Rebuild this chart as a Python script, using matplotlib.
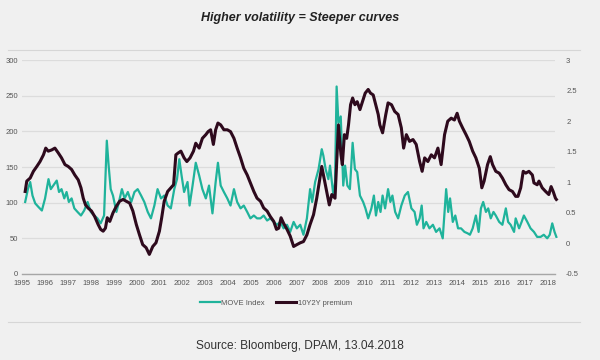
import matplotlib
matplotlib.use("Agg")
import matplotlib.pyplot as plt

plt.rcParams["font.family"] = ["Liberation Sans", "DejaVu Sans"]

# MOVE Index (left axis)
move_years = [1995.13, 1995.25, 1995.35, 1995.45, 1995.57, 1995.71, 1995.86, 1996.00, 1996.15, 1996.25,
              1996.36, 1996.51, 1996.61, 1996.72, 1996.84, 1996.94, 1997.04, 1997.16, 1997.28, 1997.42,
              1997.57, 1997.71, 1997.86, 1998.00, 1998.15, 1998.29, 1998.43, 1998.58, 1998.70, 1998.78,
              1998.87, 1998.97, 1999.12, 1999.23, 1999.36, 1999.48, 1999.62, 1999.77, 1999.91, 2000.05,
              2000.20, 2000.34, 2000.49, 2000.63, 2000.78, 2000.92, 2001.07, 2001.21, 2001.36, 2001.50,
              2001.65, 2001.77, 2001.87, 2001.97, 2002.08, 2002.23, 2002.32, 2002.45, 2002.59, 2002.74,
              2002.88, 2003.03, 2003.17, 2003.32, 2003.46, 2003.56, 2003.68, 2003.82, 2003.97, 2004.11,
              2004.26, 2004.40, 2004.55, 2004.69, 2004.84, 2004.98, 2005.13, 2005.27, 2005.42, 2005.56,
              2005.71, 2005.85, 2006.00, 2006.14, 2006.29, 2006.43, 2006.58, 2006.72, 2006.87, 2007.01,
              2007.16, 2007.30, 2007.45, 2007.59, 2007.68, 2007.81, 2007.96, 2008.10, 2008.17, 2008.27,
              2008.39, 2008.46, 2008.61, 2008.68, 2008.75, 2008.83, 2008.93, 2009.04, 2009.12, 2009.22,
              2009.33, 2009.45, 2009.55, 2009.65, 2009.77, 2009.91, 2010.01, 2010.13, 2010.27, 2010.38,
              2010.47, 2010.57, 2010.67, 2010.76, 2010.87, 2011.00, 2011.10, 2011.19, 2011.31, 2011.44,
              2011.58, 2011.73, 2011.87, 2012.02, 2012.16, 2012.26, 2012.38, 2012.47, 2012.55, 2012.67,
              2012.81, 2012.96, 2013.10, 2013.25, 2013.39, 2013.54, 2013.63, 2013.71, 2013.83, 2013.94,
              2014.06, 2014.19, 2014.34, 2014.48, 2014.58, 2014.70, 2014.84, 2014.96, 2015.06, 2015.16,
              2015.28, 2015.38, 2015.49, 2015.61, 2015.71, 2015.86, 2016.00, 2016.15, 2016.25, 2016.36,
              2016.51, 2016.58, 2016.73, 2016.84, 2016.94, 2017.09, 2017.23, 2017.38, 2017.52, 2017.67,
              2017.81, 2017.96, 2018.07, 2018.18, 2018.28, 2018.36]
move_vals = [101, 119, 129, 110, 99, 94, 89, 106, 133, 119,
             124, 131, 115, 119, 106, 115, 101, 106, 92, 87,
             82, 89, 101, 87, 82, 78, 71, 82, 187, 152,
             119, 110, 87, 101, 119, 106, 115, 101, 115, 119,
             110, 101, 87, 78, 96, 119, 106, 110, 96, 92,
             119, 133, 161, 138, 115, 129, 96, 124, 156, 138,
             119, 106, 124, 85, 129, 156, 124, 115, 106, 96,
             119, 101, 92, 96, 87, 78, 82, 78, 78, 82,
             75, 78, 73, 69, 73, 64, 69, 59, 73, 64,
             69, 55, 78, 119, 101, 129, 147, 175, 166, 147,
             133, 152, 110, 129, 263, 212, 221, 124, 152, 124,
             119, 184, 147, 143, 110, 101, 92, 78, 92, 110,
             82, 101, 87, 110, 92, 119, 101, 110, 87, 78,
             96, 110, 115, 92, 87, 69, 78, 96, 64, 73,
             64, 69, 59, 64, 50, 119, 87, 106, 73, 82,
             64, 64, 59, 57, 55, 64, 82, 59, 92, 101,
             87, 92, 78, 87, 82, 73, 69, 92, 73, 69,
             59, 78, 64, 73, 82, 73, 64, 59, 52, 52,
             55, 50, 55, 71, 59, 52]

# 10Y2Y premium (right axis)
prem_years = [1995.13, 1995.20, 1995.35, 1995.49, 1995.64, 1995.78, 1995.93, 1996.03, 1996.14, 1996.29,
              1996.43, 1996.58, 1996.72, 1996.87, 1997.01, 1997.16, 1997.30, 1997.45, 1997.57, 1997.67,
              1997.77, 1997.88, 1998.03, 1998.17, 1998.32, 1998.43, 1998.54, 1998.64, 1998.72, 1998.83,
              1998.97, 1999.12, 1999.26, 1999.41, 1999.55, 1999.70, 1999.84, 1999.99, 2000.13, 2000.27,
              2000.42, 2000.56, 2000.71, 2000.85, 2001.00, 2001.10, 2001.21, 2001.36, 2001.50, 2001.62,
              2001.72, 2001.82, 2001.94, 2002.08, 2002.20, 2002.34, 2002.49, 2002.59, 2002.74, 2002.88,
              2003.03, 2003.13, 2003.24, 2003.36, 2003.46, 2003.56, 2003.68, 2003.82, 2003.97, 2004.11,
              2004.26, 2004.40, 2004.55, 2004.69, 2004.84, 2004.98, 2005.13, 2005.27, 2005.42, 2005.56,
              2005.71, 2005.85, 2006.00, 2006.12, 2006.22, 2006.32, 2006.43, 2006.58, 2006.72, 2006.87,
              2007.01, 2007.16, 2007.30, 2007.45, 2007.59, 2007.74, 2007.88, 2008.00, 2008.10, 2008.20,
              2008.32, 2008.43, 2008.54, 2008.68, 2008.75, 2008.83, 2008.88, 2008.94, 2009.00, 2009.09,
              2009.19, 2009.27, 2009.36, 2009.45, 2009.55, 2009.65, 2009.77, 2009.88, 2010.00, 2010.13,
              2010.23, 2010.35, 2010.46, 2010.57, 2010.64, 2010.76, 2010.90, 2011.00, 2011.15, 2011.29,
              2011.44, 2011.58, 2011.68, 2011.80, 2011.94, 2012.09, 2012.23, 2012.38, 2012.49, 2012.60,
              2012.74, 2012.89, 2013.03, 2013.18, 2013.32, 2013.47, 2013.61, 2013.76, 2013.90, 2014.02,
              2014.12, 2014.26, 2014.41, 2014.55, 2014.70, 2014.84, 2014.99, 2015.10, 2015.20, 2015.35,
              2015.47, 2015.57, 2015.71, 2015.86, 2016.00, 2016.15, 2016.29, 2016.44, 2016.58, 2016.68,
              2016.80, 2016.91, 2017.02, 2017.16, 2017.31, 2017.38, 2017.52, 2017.60, 2017.74, 2017.89,
              2018.03, 2018.13, 2018.22, 2018.32, 2018.36]
prem_vals = [0.85, 1.02, 1.07, 1.18, 1.26, 1.34, 1.45, 1.56, 1.51, 1.53,
             1.56, 1.48, 1.40, 1.29, 1.26, 1.21, 1.12, 1.04, 0.91, 0.74,
             0.63, 0.58, 0.53, 0.44, 0.31, 0.23, 0.20, 0.25, 0.42, 0.36,
             0.50, 0.61, 0.69, 0.72, 0.69, 0.66, 0.53, 0.31, 0.14, -0.02,
             -0.07, -0.18, -0.05, 0.01, 0.20, 0.42, 0.69, 0.85, 0.91, 0.96,
             1.45, 1.48, 1.51, 1.40, 1.34, 1.40, 1.51, 1.64, 1.56, 1.72,
             1.78, 1.83, 1.86, 1.62, 1.86, 1.97, 1.94, 1.86, 1.86, 1.83,
             1.72, 1.56, 1.40, 1.23, 1.12, 0.99, 0.85, 0.74, 0.69, 0.58,
             0.53, 0.44, 0.36, 0.23, 0.25, 0.42, 0.33, 0.23, 0.12, -0.05,
             -0.02, 0.01, 0.03, 0.14, 0.31, 0.47, 0.74, 1.02, 1.26, 1.07,
             0.85, 0.63, 0.80, 0.74, 1.29, 1.94, 1.72, 1.45, 1.29, 1.78,
             1.72, 1.94, 2.27, 2.38, 2.27, 2.32, 2.19, 2.32, 2.46, 2.52,
             2.46, 2.43, 2.27, 2.11, 1.94, 1.81, 2.11, 2.30, 2.27, 2.16,
             2.11, 1.89, 1.56, 1.78, 1.67, 1.70, 1.62, 1.34, 1.18, 1.40,
             1.34, 1.45, 1.40, 1.56, 1.29, 1.78, 2.00, 2.05, 2.02, 2.13,
             2.00, 1.89, 1.78, 1.67, 1.51, 1.40, 1.23, 0.91, 1.02, 1.29,
             1.42, 1.29, 1.18, 1.15, 1.07, 0.96, 0.88, 0.85, 0.77, 0.77,
             0.91, 1.18, 1.15, 1.18, 1.12, 0.99, 0.96, 1.02, 0.91, 0.85,
             0.80, 0.93, 0.85, 0.74, 0.72]

year_ticks = list(range(1995, 2019))
left_ticks = [0, 50, 100, 150, 200, 250, 300]
right_ticks = [-0.5, 0, 0.5, 1, 1.5, 2, 2.5, 3]

BG = "#f0f0f0"
TEAL = "#1fb39b"
MAROON = "#2e0a1d"
TXT = "#555555"

fig = plt.figure(figsize=(6, 3.6), dpi=100, facecolor=BG)
ax = fig.add_axes([0.037, 0.239, 0.888, 0.594])
ax.set_facecolor(BG)
ax2 = ax.twinx()

ax.plot(move_years, move_vals, color=TEAL, lw=1.6, label="MOVE Index", clip_on=False)
ax2.plot(prem_years, prem_vals, color=MAROON, lw=2.2, label="10Y2Y premium", clip_on=False)

ax.set_xlim(1995, 2018.3)
ax.set_ylim(0, 300)
ax2.set_ylim(-0.5, 3)
ax.set_xticks(year_ticks)
ax.set_yticks(left_ticks)
ax2.set_yticks(right_ticks)
ax2.set_yticklabels(["-0.5", "0", "0.5", "1", "1.5", "2", "2.5", "3"])
ax.grid(axis="y", color="#dcdcdc", lw=0.9)
ax.set_axisbelow(True)
for a in (ax, ax2):
    for s in a.spines.values():
        s.set_visible(False)
ax.spines["bottom"].set_visible(True)
ax.spines["bottom"].set_color("#a6a6a6")
ax.spines["bottom"].set_linewidth(1.0)
ax.tick_params(axis="x", length=0, labelsize=5.5, labelcolor=TXT, pad=4)
ax.tick_params(axis="y", length=0, labelsize=5.5, labelcolor=TXT, pad=3)
ax2.tick_params(axis="y", length=0, labelsize=5.5, labelcolor=TXT, pad=8)

fig.text(0.5, 0.95, "Higher volatility = Steeper curves", ha="center", va="center",
         fontsize=9, fontweight="bold", fontstyle="italic", color="#222222")
fig.add_artist(plt.Line2D([0.013, 0.967], [1 - 50 / 360, 1 - 50 / 360], color="#d6d6d6", lw=0.8))
fig.add_artist(plt.Line2D([0.013, 0.967], [1 - 322 / 360, 1 - 322 / 360], color="#d6d6d6", lw=0.8))

h1, l1 = ax.get_legend_handles_labels()
h2, l2 = ax2.get_legend_handles_labels()
fig.legend(h1 + h2, l1 + l2, loc="center", bbox_to_anchor=(0.46, 1 - 303 / 360), ncol=2,
           frameon=False, fontsize=5.5, labelcolor=TXT, handlelength=2.6, handletextpad=0.2,
           columnspacing=1.5)

fig.text(0.5, 1 - 346 / 360, "Source: Bloomberg, DPAM, 13.04.2018", ha="center", va="center",
         fontsize=8.6, color="#333333")

fig.savefig("out.png", dpi=100, facecolor=BG)
